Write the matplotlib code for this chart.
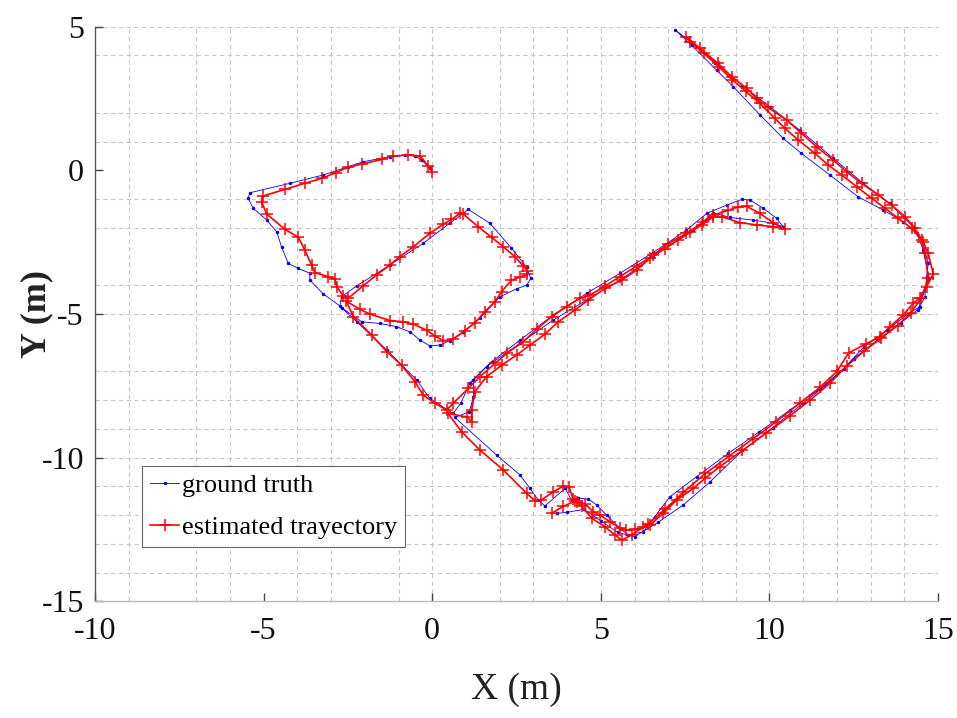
import matplotlib
matplotlib.use("Agg")
import matplotlib.pyplot as plt

# ---------------- data ----------------
gt_x = [-0.07, -0.31, -0.51, -0.80, -1.25, -2.05, -2.49, -3.23, -4.22, -5.41, -5.46, -5.31, -4.91, -4.61, -4.47, -4.27, -3.97, -3.63, -3.63, -3.23, -2.74,
        -2.69, -2.24, -1.25, -0.27, 0.52, 1.07, 1.71, 2.35, 2.80, 2.92, 2.80, 2.50, 2.01, 1.41, 0.92, 0.52, 0.23, -0.07, -0.36, -0.66, -1.06, -1.55, -2.09, -2.69,
        -2.24, -1.35, -0.46, -0.07, 0.62,
        0.85, 1.12, 1.76, 2.60, 3.59, 4.58, 5.57, 6.55, 7.54, 8.14, 8.73, 9.18, 9.42, 9.82, 10.21, 10.41,
        10.11, 9.52, 8.83, 8.33, 7.74, 6.55, 5.57, 4.58, 3.59, 2.60, 1.61, 1.22, 1.22, 1.10, 0.67,
        1.91, 2.60, 2.90, 3.14, 3.34, 3.94, 4.13, 4.33, 4.63, 4.88, 5.17, 5.57, 5.81, 6.26,
        6.60, 7.05, 7.84, 8.78, 9.70, 10.60, 11.50, 12.20, 12.80, 13.50, 14.10, 14.46, 14.61, 14.66,
        14.71, 14.51, 14.26, 13.57, 12.78, 11.89, 10.90, 10.01, 9.20, 8.40, 7.70, 7.20,
        7.69, 8.43, 8.93, 9.72, 10.41, 10.95, 11.79, 12.63, 13.37, 13.97, 14.37, 14.56, 14.74,
        14.40, 13.90, 13.20, 12.50, 11.80, 11.00, 10.10, 9.20, 8.24, 7.44, 6.70, 6.00,
        5.50, 5.00, 4.50, 4.00, 3.69]
gt_y = [0.07, 0.36, 0.50, 0.53, 0.48, 0.30, 0.13, -0.16, -0.45, -0.78, -0.97, -1.32, -1.73, -2.14, -2.66, -3.24, -3.41, -3.58, -3.82, -4.30, -4.72,
        -4.40, -4.02, -3.29, -2.54, -1.84, -1.36, -1.84, -2.71, -3.37, -3.76, -4.00, -4.12, -4.40, -5.15, -5.62, -5.93, -6.08, -6.11, -5.91, -5.62, -5.44, -5.33, -5.27, -4.78,
        -5.27, -6.25, -7.30, -7.94, -8.46,
        -8.10, -7.39, -6.66, -5.91, -5.03, -4.28, -3.58, -2.86, -2.08, -1.50, -1.21, -1.01, -1.03, -1.32, -1.67, -1.96,
        -1.84, -1.73, -1.64, -1.47, -2.08, -3.00, -3.82, -4.51, -5.21, -6.02, -6.83, -7.30, -7.88, -8.40, -8.60,
        -9.91, -10.60, -11.07, -11.47, -11.68, -11.07, -11.47, -11.41, -11.44, -11.65, -12.00, -12.46, -12.69, -12.58,
        -12.05, -11.36, -10.66, -9.85, -9.10, -8.35, -7.60, -6.90, -6.15, -5.55, -5.00, -4.75, -4.40, -3.70,
        -3.23, -2.42, -1.96, -1.15, -0.45, 0.42, 1.40, 2.22, 2.95, 3.75, 4.45, 4.89,
        4.36, 3.49, 2.91, 1.93, 1.11, 0.59, -0.16, -0.92, -1.38, -1.79, -2.19, -2.77, -3.76,
        -4.85, -5.30, -5.90, -6.55, -7.35, -8.10, -8.95, -9.75, -10.84, -11.65, -12.25, -12.75,
        -12.60, -12.20, -11.80, -11.90, -11.94]

est_x = [0.00, -0.12, -0.36, -0.71, -1.16, -1.50, -2.09, -2.49, -2.86, -3.28, -3.78, -4.37, -5.01, -5.06, -4.91, -4.37, -3.97, -3.78, -3.58, -3.48, -3.08, -2.89, -2.83, -2.64, -2.49,
         -2.05, -1.65, -1.25, -0.96, -0.56, -0.07, 0.33, 0.57, 0.82, 0.92, 1.36, 1.76, 2.11, 2.45, 2.70, 2.82, 2.80, 2.60, 2.35, 2.06, 1.86, 1.56, 1.27, 0.97, 0.62, 0.33, 0.08, -0.17, -0.56, -0.86, -1.25, -1.85, -2.14, -2.55,
         -2.34, -1.80, -1.35, -0.91, -0.51, -0.27, 0.08, 0.43,
         0.62, 1.07, 1.41, 1.86, 2.21, 2.70, 3.10, 3.54, 3.99, 4.38, 4.68, 5.12, 5.56, 6.06, 6.55, 7.00, 7.54, 8.04, 8.33, 8.78, 9.07, 9.32, 9.72, 10.11, 10.46,
         10.11, 9.62, 9.12, 8.58, 8.33, 7.99, 7.65, 7.29, 6.90, 6.46, 6.06, 5.62, 5.12, 4.63, 4.23, 3.74, 3.34, 2.90, 2.50, 2.06, 1.61, 1.27, 1.17, 1.17, 1.02, 0.47,
         0.87, 1.41, 2.11, 2.80, 3.05, 3.24, 3.59, 3.89, 4.06, 4.18, 4.28, 4.53, 4.77, 4.97, 5.27, 5.57, 5.76, 6.01, 6.26, 6.46,
         6.85, 7.25, 7.74, 8.09, 8.53, 9.20, 9.90, 10.60, 11.20, 11.80, 12.30, 12.80, 13.30, 13.80, 14.20, 14.50, 14.71,
         14.61, 14.51, 14.22, 13.82, 13.43, 13.03, 12.59, 12.14, 11.74, 11.35, 10.85, 10.46, 10.16, 9.72, 9.30, 8.90, 8.50, 8.05, 7.64, 7.54,
         7.94, 8.48, 8.88, 9.32, 9.62, 9.96, 10.51, 10.95, 11.40, 11.89, 12.29, 12.73, 13.23, 13.62, 14.02, 14.31, 14.56, 14.71, 14.86,
         14.66, 14.46, 14.26, 13.97, 13.57, 13.27, 12.85, 12.35, 12.00, 11.50, 10.90, 10.20, 9.50, 8.80, 8.10, 7.45, 6.90, 6.40, 5.91, 5.62,
         5.42, 5.12, 4.73, 4.43, 4.22, 3.89, 3.54]
est_y = [-0.05, 0.15, 0.50, 0.53, 0.50, 0.38, 0.22, 0.11, -0.08, -0.28, -0.45, -0.66, -0.89, -1.09, -1.52, -2.05, -2.33, -2.77, -3.30, -3.56, -3.70, -3.79, -4.05, -4.37, -4.45,
         -4.02, -3.64, -3.29, -3.00, -2.66, -2.19, -1.87, -1.71, -1.50, -1.52, -1.96, -2.33, -2.66, -3.00, -3.33, -3.49, -3.62, -3.72, -3.82, -4.22, -4.57, -4.92, -5.30, -5.58, -5.88, -5.93, -5.77, -5.56, -5.35, -5.27, -5.23, -5.00, -4.84, -4.55,
         -5.09, -5.73, -6.31, -6.78, -7.36, -7.82, -8.11, -8.34,
         -8.11, -7.59, -7.18, -6.72, -6.37, -5.96, -5.53, -5.09, -4.74, -4.45, -4.34, -4.03, -3.70, -3.33, -2.95, -2.55, -2.19, -1.80, -1.56, -1.39, -1.27, -1.25, -1.50, -1.82, -2.05,
         -1.96, -1.90, -1.82, -1.61, -1.62, -1.90, -2.15, -2.43, -2.72, -3.06, -3.47, -3.82, -4.11, -4.51, -4.86, -5.27, -5.70, -6.08, -6.43, -6.78, -7.18, -7.70, -8.34, -8.75, -8.58, -8.46,
         -9.10, -9.73, -10.43, -11.24, -11.51, -11.47, -11.19, -10.99, -11.03, -11.45, -11.53, -11.61, -11.88, -12.00, -12.23, -12.46, -12.52, -12.50, -12.42, -12.34,
         -11.94, -11.47, -11.07, -10.72, -10.31, -9.75, -9.15, -8.55, -8.00, -7.40, -6.80, -6.30, -5.85, -5.40, -4.95, -4.45, -3.76,
         -2.89, -2.42, -2.02, -1.67, -1.32, -0.97, -0.57, -0.16, 0.19, 0.59, 1.06, 1.46, 1.81, 2.33, 2.75, 3.15, 3.60, 4.08, 4.48, 4.65,
         4.25, 3.72, 3.26, 2.86, 2.51, 2.19, 1.75, 1.29, 0.82, 0.36, -0.05, -0.45, -0.86, -1.21, -1.61, -2.02, -2.48, -2.89, -3.61,
         -4.05, -4.45, -4.63, -5.03, -5.44, -5.79, -6.05, -6.35, -7.00, -7.55, -8.10, -8.75, -9.35, -9.95, -10.55, -11.20, -11.80, -12.30, -12.69, -12.87,
         -12.69, -12.40, -12.11, -11.69, -11.52, -11.69, -11.94]

x_ticks = [-10, -5, 0, 5, 10, 15]
y_ticks = [-15, -10, -5, 0, 5]
grid_x = [-9, -7, -6, -4, -3, -1, 0, 2, 3, 4, 5, 6, 7, 8, 9, 10, 11, 12, 13, 14, 15]
grid_y = [5, 4, 2, 1, -1, -2, -4, -5, -7, -8, -9, -10, -11, -12, -13, -14]

labels = ["ground truth", "estimated trayectory"]

# ---------------- figure ----------------
plt.rcParams['font.family'] = ['Liberation Serif', 'DejaVu Serif']

fig = plt.figure(figsize=(9.57, 7.18), dpi=100)
ax = fig.add_axes([0.0993, 0.1625, 0.8809, 0.8003])

ax.set_xlim(-10, 15)
ax.set_ylim(-15, 5)

# grid (dashed, light grey)
for gx in grid_x:
    ax.axvline(gx, color='#c8c8c8', lw=0.8, ls=(0, (4, 3)), zorder=0)
for gy in grid_y:
    ax.axhline(gy, color='#c8c8c8', lw=0.8, ls=(0, (4, 3)), zorder=0)

ax.plot(gt_x, gt_y, color='#0000ff', lw=0.6, marker='.', ms=3, label=labels[0], zorder=2)
ax.plot(est_x, est_y, color='#ff0000', lw=1.2, marker='+', ms=8.5, mew=1.1, label=labels[1], zorder=3)

ax.set_xticks(x_ticks)
ax.set_yticks(y_ticks)
ax.set_xticklabels([str(t) for t in x_ticks])
ax.set_yticklabels([str(t) for t in y_ticks])
ax.tick_params(axis='x', direction='in', length=6, width=1, colors='#444444', labelcolor='#111111',
               labelsize=23, pad=11)
ax.tick_params(axis='y', direction='in', length=6, width=1, colors='#444444', labelcolor='#111111',
               labelsize=23, pad=8)

for s in ['top', 'right']:
    ax.spines[s].set_visible(False)
ax.spines['left'].set_color('#555555')
ax.spines['left'].set_linewidth(1.0)
ax.spines['bottom'].set_color('#bbbbbb')
ax.spines['bottom'].set_linewidth(1.0)

ax.set_xlabel("X (m)", fontsize=27, color='#222222')
ax.set_ylabel("Y (m)", fontsize=26, fontweight='bold', color='#222222')
ax.xaxis.set_label_coords(0.5, -0.154)
ax.xaxis.label.set_va('center')
ax.yaxis.set_label_coords(-0.069, 0.5)
ax.yaxis.label.set_va('center')

leg = ax.legend(loc='lower left', bbox_to_anchor=(0.0558, 0.0945), borderaxespad=0,
                fontsize=19, handlelength=1.1, handletextpad=0.1, borderpad=0.3,
                labelspacing=0.7, numpoints=1, fancybox=False, framealpha=1.0)
leg.get_frame().set_edgecolor('#666666')
leg.get_frame().set_linewidth(0.8)

fig.savefig("out.png", dpi=100)
